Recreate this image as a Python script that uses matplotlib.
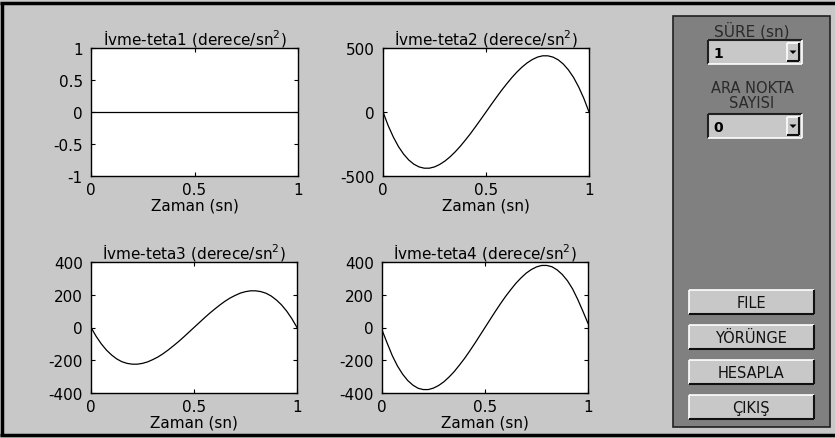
import matplotlib
matplotlib.use("Agg")
import matplotlib.pyplot as plt
from matplotlib.patches import Rectangle, Polygon

plt.rcParams["font.family"] = ["DejaVu Sans"]

# time samples (s) and accelerations (deg/s^2)
zaman = [i / 40 for i in range(41)]
ivme1 = [0.0] * 41
ivme2 = [0, -106, -195, -270, -329, -375, -408, -429, -439, -439, -429,
         -410, -384, -351, -312, -268, -219, -168, -113, -57, 0,
         57, 113, 168, 219, 268, 312, 351, 384, 410, 429,
         439, 439, 429, 408, 375, 329, 270, 195, 106, 0]
ivme3 = [0, -54, -100, -138, -168, -192, -209, -219, -224, -224, -219,
         -210, -196, -180, -160, -137, -112, -86, -58, -29, 0,
         29, 58, 86, 112, 137, 160, 180, 196, 210, 219,
         224, 224, 219, 209, 192, 168, 138, 100, 54, 0]
ivme4 = [-15, -95, -172, -235, -285, -324, -352, -371, -379, -379, -370,
         -354, -332, -303, -270, -231, -190, -145, -98, -49, 0,
         49, 98, 145, 190, 231, 270, 303, 332, 354, 370,
         379, 379, 371, 352, 324, 286, 236, 172, 100, 25]

titles = ["İvme-teta1 (derece/sn$^2$)",
          "İvme-teta2 (derece/sn$^2$)",
          "İvme-teta3 (derece/sn$^2$)",
          "İvme-teta4 (derece/sn$^2$)"]
yticks = [[-1, -0.5, 0, 0.5, 1],
          [-500, 0, 500],
          [-400, -200, 0, 200, 400],
          [-400, -200, 0, 200, 400]]
ylims = [(-1, 1), (-500, 500), (-400, 400), (-400, 400)]
xticks = [0, 0.5, 1]
xtick_labels = ["0", "0.5", "1"]
button_labels = ["FILE", "YÖRÜNGE", "HESAPLA", "ÇIKIŞ"]

W, H = 835, 439
BG = "#c8c8c8"
PANEL = "#808080"

fig = plt.figure(figsize=(W / 100, H / 100), dpi=100, facecolor=BG)

# ----- GUI background layer in pixel coordinates -----
gui = fig.add_axes([0, 0, 1, 1])
gui.set_xlim(0, W)
gui.set_ylim(H, 0)
gui.axis("off")
gui.set_facecolor("none")


def line(x0, y0, x1, y1, color, lw=1.0):
    gui.plot([x0, x1], [y0, y1], color=color, linewidth=lw, solid_capstyle="butt")


def raised(l, t, r, b, face="#c8c8c8"):
    gui.add_patch(Rectangle((l, t), r - l, b - t, facecolor=face, edgecolor="none"))
    line(l, t, r, t, "white", 1.2)
    line(l, t, l, b, "white", 1.2)
    line(l, b, r, b, "#101010", 1.5)
    line(r, t, r, b, "#101010", 1.5)


def popup(l, t, r, b, text):
    gui.add_patch(Rectangle((l, t), r - l, b - t, facecolor="#c8c8c8", edgecolor="none"))
    line(l, t, r, t, "#202020", 1.5)
    line(l, t, l, b, "#202020", 1.5)
    line(l, b, r, b, "white", 1.2)
    line(r, t, r, b, "white", 1.2)
    raised(r - 15, t + 3, r - 3, b - 3)
    cx, cy = r - 9, (t + b) / 2
    gui.add_patch(Polygon([[cx - 3.5, cy - 1.5], [cx + 3.5, cy - 1.5], [cx, cy + 2]],
                          closed=True, facecolor="black", edgecolor="none"))
    gui.text(l + 5, (t + b) / 2 + 1, text, fontsize=10, fontweight="bold",
             ha="left", va="center", color="black")


# outer window frame
line(1.5, 3, 1.5, 437, "black", 2.5)
line(0, 3.5, W, 3.5, "black", 2.5)
line(0, 436.5, W, 436.5, "black", 2.5)

# control panel
gui.add_patch(Rectangle((673, 17), 157, 411, facecolor=PANEL,
                        edgecolor="#202020", linewidth=1.2))
gui.text(752, 31, "SÜRE (sn)", fontsize=11, ha="center", va="center", color="#2a2a2a")
popup(708, 41, 802, 65, "1")
gui.text(752, 96, "ARA NOKTA\nSAYISI", fontsize=10.5, ha="center", va="center",
         color="#2a2a2a", linespacing=1.0)
popup(708, 115, 802, 139, "0")
for i, label in enumerate(button_labels):
    top = 291 + i * 35
    raised(689, top, 814, top + 24)
    gui.text(751, top + 12.5, label, fontsize=10.5, ha="center", va="center", color="#111111")

# ----- four acceleration plots -----
boxes = [(91, 49, 298, 177), (383, 49, 589, 177),
         (91, 263, 297, 394), (382, 263, 588, 394)]
series = [ivme1, ivme2, ivme3, ivme4]

for (l, t, r, b), y, title, yt, yl in zip(boxes, series, titles, yticks, ylims):
    ax = fig.add_axes([l / W, 1 - b / H, (r - l) / W, (b - t) / H])
    ax.set_facecolor("white")
    ax.plot(zaman, y, color="black", linewidth=0.9)
    ax.set_xlim(0, 1)
    ax.set_ylim(*yl)
    ax.set_xticks(xticks)
    ax.set_xticklabels(xtick_labels)
    ax.set_yticks(yt)
    ax.set_yticklabels([f"{v:g}" for v in yt])
    ax.tick_params(direction="in", length=3, width=0.8, labelsize=11,
                   top=True, right=True, pad=6, colors="black")
    ax.tick_params(axis="x", pad=4)
    for s in ax.spines.values():
        s.set_linewidth(1.0)
        s.set_color("black")
    ax.set_title(title, fontsize=11, pad=3)
    ax.set_xlabel("Zaman (sn)", fontsize=11, labelpad=1)

fig.savefig("out.png", dpi=100, facecolor=BG)
